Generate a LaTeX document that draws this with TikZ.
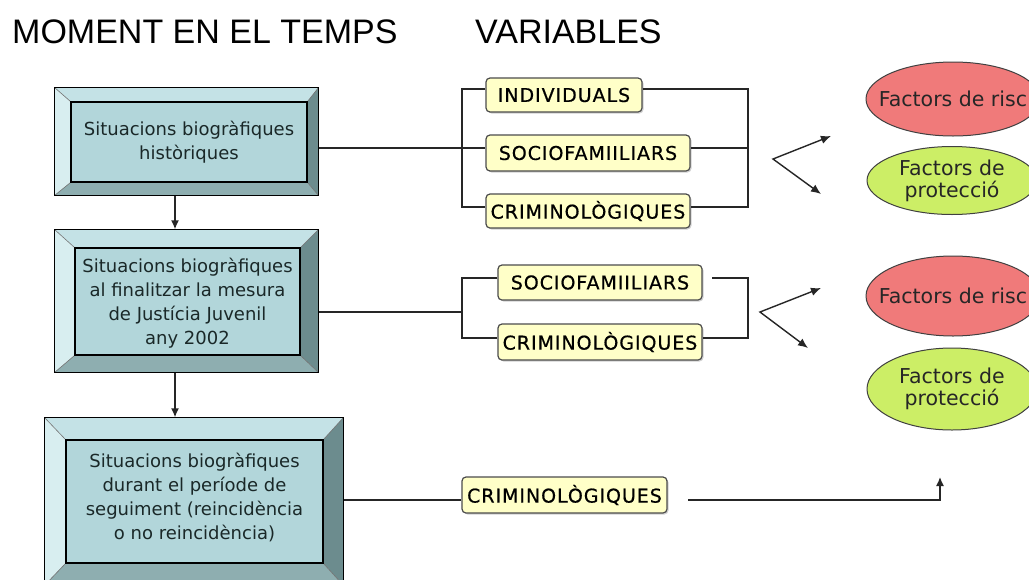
\documentclass[tikz,border=0pt]{standalone}
\usepackage{fontspec}
\setmainfont{DejaVu Sans}
\newfontfamily\titlefont{Liberation Sans}
\newfontfamily\labfont[LetterSpace=5,FakeBold=0.6]{DejaVu Sans}
\usetikzlibrary{arrows.meta,shapes.geometric,shadows}
\definecolor{bevtop}{HTML}{C4E2E6}
\definecolor{bevleft}{HTML}{D8EEF0}
\definecolor{bevright}{HTML}{6C8C8E}
\definecolor{bevbot}{HTML}{8EAEB0}
\definecolor{boxin}{HTML}{B2D6DA}
\definecolor{labfill}{HTML}{FFFFC8}
\definecolor{riskred}{HTML}{F07A7A}
\definecolor{protgreen}{HTML}{CCEE66}
\definecolor{boxtext}{HTML}{1A2828}
\tikzset{
  outerbox/.style={rectangle, draw=black, line width=1.4pt, inner sep=0pt},
  innerbox/.style={rectangle, fill=boxin, draw=black, line width=1.3pt, inner sep=0pt,
     align=center, text=boxtext, font=\fontsize{18}{24}\selectfont},
  bevelpart/.style={draw=black!55, line width=0.6pt},
  lab/.style={rectangle, rounded corners=4pt, fill=labfill, draw=black!70, line width=1.2pt,
     inner sep=0pt, font=\labfont\fontsize{19}{20}\selectfont,
     drop shadow={shadow xshift=1.5pt, shadow yshift=-1.5pt, fill=black!30, opacity=0.6}},
  riskell/.style={ellipse, fill=riskred, draw=black!75, line width=1pt, inner sep=0pt},
  protell/.style={ellipse, fill=protgreen, draw=black!75, line width=1pt, inner sep=0pt},
  elltext/.style={inner sep=0pt, align=center, text=black!85, font=\fontsize{20.5}{22}\selectfont},
  titletext/.style={inner sep=0pt, anchor=base west, font=\titlefont\fontsize{34}{40}\selectfont},
  conn/.style={line width=1.4pt, draw=black!85},
  arr/.style={conn, -{Latex[length=9pt,width=8pt]}},
  darr/.style={conn, {Latex[length=10pt,width=8.5pt]}-{Latex[length=10pt,width=8.5pt]}}
}
\newcommand\bevels[2]{%
  \fill[bevtop] (#1.north west) -- (#1.north east) -- (#2.north east) -- (#2.north west) -- cycle;
  \fill[bevleft] (#1.north west) -- (#2.north west) -- (#2.south west) -- (#1.south west) -- cycle;
  \fill[bevright] (#1.north east) -- (#1.south east) -- (#2.south east) -- (#2.north east) -- cycle;
  \fill[bevbot] (#1.south west) -- (#2.south west) -- (#2.south east) -- (#1.south east) -- cycle;
  \draw[bevelpart] (#1.north west) -- (#2.north west) (#1.north east) -- (#2.north east)
     (#1.south west) -- (#2.south west) (#1.south east) -- (#2.south east);
  \draw[line width=1.3pt] (#2.north west) rectangle (#2.south east);
  \draw[line width=1.4pt] (#1.north west) rectangle (#1.south east);
}
\begin{document}
\begin{tikzpicture}[x=1pt,y=-1pt]
\clip (0,0) rectangle (1029,579);
\fill[white] (0,0) rectangle (1029,579);

% titles
\node[titletext] (t1) at (12,43) {MOMENT EN EL TEMPS};
\node[titletext] (t2) at (475,43) {VARIABLES};

% time boxes
\node[outerbox, minimum width=263pt, minimum height=107pt] (b1o) at (186.5,141.5) {};
\node[innerbox, minimum width=236pt, minimum height=80pt] (b1) at (189,142) {};
\bevels{b1o}{b1}
\node[innerbox, draw=none, fill=none] (b1t) at (b1.center) {Situacions biogràfiques\\històriques};

\node[outerbox, minimum width=263pt, minimum height=142pt] (b2o) at (186.5,301) {};
\node[innerbox, minimum width=225pt, minimum height=107pt] (b2) at (187.5,301.5) {};
\bevels{b2o}{b2}
\node[innerbox, draw=none, fill=none] (b2t) at (187.5,303) {Situacions biogràfiques\\al finalitzar la mesura\\de Justícia Juvenil\\any 2002};

\node[outerbox, minimum width=298pt, minimum height=167pt] (b3o) at (194,501.5) {};
\node[innerbox, minimum width=257pt, minimum height=123pt] (b3) at (194.5,501.5) {};
\bevels{b3o}{b3}
\node[innerbox, draw=none, fill=none] (b3t) at (194.5,497) {Situacions biogràfiques\\durant el període de\\seguiment (reincidència\\o no reincidència)};

% vertical arrows
\coordinate (ax) at (175,0);
\draw[arr] (b1o.south -| ax) -- (b2o.north -| ax);
\draw[arr] (b2o.south -| ax) -- (b3o.north -| ax);

% variable labels row 1
\node[lab, minimum width=156pt, minimum height=34pt] (l11) at (564,95) {INDIVIDUALS};
\node[lab, minimum width=204pt, minimum height=36pt] (l12) at (588,153) {SOCIOFAMIILIARS};
\node[lab, minimum width=204pt, minimum height=34pt] (l13) at (588,211) {CRIMINOLÒGIQUES};
% row 2
\node[lab, minimum width=204pt, minimum height=35pt] (l21) at (600,282.5) {SOCIOFAMIILIARS};
\node[lab, minimum width=204pt, minimum height=36pt] (l22) at (600,342) {CRIMINOLÒGIQUES};
% row 3
\node[lab, minimum width=205pt, minimum height=36pt] (l3) at (564.5,495) {CRIMINOLÒGIQUES};

% connectors row 1
\coordinate (j1) at (462,148);
\coordinate (k11) at (462,89);
\coordinate (k13) at (462,207);
\coordinate (m11) at (748,89);
\coordinate (m12) at (748,148);
\coordinate (m13) at (748,207);
\draw[conn] (b1o.east |- j1) -- (l12.west |- j1);
\draw[conn] (l11.west |- k11) -- (k11) -- (k13) -- (l13.west |- k13);
\draw[conn] (l11.east |- m11) -- (m11) -- (m13) -- (l13.east |- m13);
\draw[conn] (l12.east |- m12) -- (m12);

% connectors row 2
\coordinate (j2) at (462,312);
\coordinate (k21) at (462,278);
\coordinate (k22) at (462,338);
\coordinate (g21) at (712,278);
\coordinate (m21) at (748,278);
\coordinate (m22) at (748,338);
\draw[conn] (b2o.east |- j2) -- (j2);
\draw[conn] (l21.west |- k21) -- (k21) -- (k22) -- (l22.west |- k22);
\draw[conn] (g21) -- (m21) -- (m22) -- (l22.east |- m22);

% connectors row 3
\coordinate (j3) at (462,500);
\coordinate (g3) at (688,500);
\coordinate (t3) at (940,477);
\draw[conn] (b3o.east |- j3) -- (l3.west |- j3);
\draw[arr] (g3) -- (t3 |- g3) -- (t3);

% V arrows
\coordinate (v1) at (773,159);
\coordinate (v1a) at (831,136);
\coordinate (v1b) at (821,194);
\draw[darr] (v1a) -- (v1) -- (v1b);
\coordinate (v2) at (760,312);
\coordinate (v2a) at (821,288);
\coordinate (v2b) at (808,348);
\draw[darr] (v2a) -- (v2) -- (v2b);

% ellipses
\node[riskell, minimum width=174pt, minimum height=74pt] (r1) at (953,99) {};
\node[elltext] at (r1.center) {Factors de risc};
\node[protell, minimum width=170pt, minimum height=68pt] (p1) at (952,180.5) {};
\node[elltext] at (p1.center) {Factors de\\protecció};
\node[riskell, minimum width=174pt, minimum height=80pt] (r2) at (953,296) {};
\node[elltext] at (r2.center) {Factors de risc};
\node[protell, minimum width=170pt, minimum height=82pt] (p2) at (952,389) {};
\node[elltext] at (p2.center) {Factors de\\protecció};
\end{tikzpicture}
\end{document}
